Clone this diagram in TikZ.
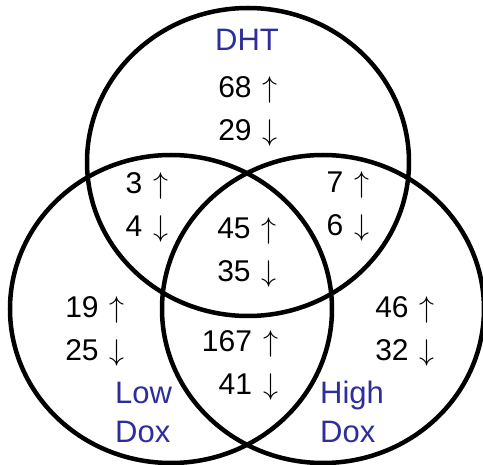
\RequirePackage{fix-cm}
\documentclass[tikz,border=0pt]{standalone}
\usepackage{fontspec}
\setmainfont{Liberation Sans}
\definecolor{labelblue}{RGB}{45, 45, 155}
\usetikzlibrary{shapes.geometric}
\newcommand{\up}{\hspace{11pt}$\uparrow$}
\newcommand{\down}{\hspace{11pt}$\downarrow$}

\begin{document}
\begin{tikzpicture}[x=1pt, y=-1pt,
    setring/.style={draw=black, line width=4.5pt, ellipse, minimum width=322pt, minimum height=308pt, inner sep=0pt},
    count/.style={align=right, inner sep=0pt, font=\fontsize{30}{43}\selectfont},
    setname/.style={text=labelblue, inner sep=0pt, font=\fontsize{31}{39}\selectfont}]
  \useasboundingbox (0, 0) rectangle (483, 465);

  % Three sets
  \node[setring] (dht) at (248, 162) {};
  \node[setring] (low) at (171, 309) {};
  \node[setring] (high) at (323, 309) {};

  % Set names
  \node[setname] (dhtname) at (247, 40) {DHT};
  \node[setname, align=left, anchor=west] (lowname) at (115, 412) {Low\\Dox};
  \node[setname, align=left, anchor=west] (highname) at (320, 412) {High\\Dox};

  % Counts per region
  \node[count] (onlydht) at (248, 111) {68\up\\29\down};
  \node[count] (dhtlow) at (147, 207) {3\up\\4\down};
  \node[count] (dhthigh) at (348, 207) {7\up\\6\down};
  \node[count] (allthree) at (247, 253) {45\up\\35\down};
  \node[count] (onlylow) at (95, 331) {19\up\\25\down};
  \node[count] (onlyhigh) at (405, 331) {46\up\\32\down};
  \node[count] (lowhigh) at (240, 365) {167\up\\41\down};
\end{tikzpicture}
\end{document}
